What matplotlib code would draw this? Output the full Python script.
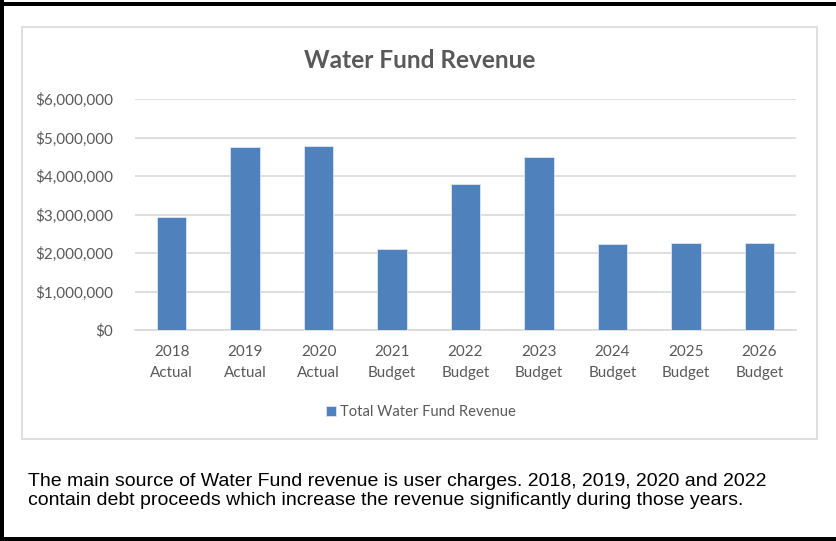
import matplotlib
matplotlib.use("Agg")
import matplotlib.pyplot as plt
from matplotlib.patches import Rectangle
from matplotlib.ticker import FuncFormatter

categories = ["2018\nActual", "2019\nActual", "2020\nActual", "2021\nBudget", "2022\nBudget",
              "2023\nBudget", "2024\nBudget", "2025\nBudget", "2026\nBudget"]
revenue = [2950000, 4750000, 4780000, 2110000, 3800000, 4510000, 2235000, 2255000, 2275000]
yticks = [0, 1000000, 2000000, 3000000, 4000000, 5000000, 6000000]
title = "Water Fund Revenue"
series_name = "Total Water Fund Revenue"
note = ("The main source of Water Fund revenue is user charges. 2018, 2019, 2020 and 2022\n"
        "contain debt proceeds which increase the revenue significantly during those years.")

W, H = 836, 541
fig = plt.figure(figsize=(W / 100, H / 100), dpi=100)
fig.patch.set_facecolor("white")

def fx(px):
    return px / W

def fy(py):
    return 1 - py / H

# outer black border (left, top, bottom)
fig.patches.append(Rectangle((0, fy(541)), fx(4), 1, transform=fig.transFigure,
                             facecolor="black", edgecolor="none", zorder=-2))
fig.patches.append(Rectangle((0, fy(6)), 1, 4 / H, transform=fig.transFigure,
                             facecolor="black", edgecolor="none", zorder=-2))
fig.patches.append(Rectangle((0, 0), 1, 4 / H, transform=fig.transFigure,
                             facecolor="black", edgecolor="none", zorder=-2))
# chart box
fig.patches.append(Rectangle((fx(22), fy(439)), fx(817 - 22), (439 - 27) / H,
                             transform=fig.transFigure, facecolor="white",
                             edgecolor="#D9D9D9", linewidth=1.2, zorder=-1))

ax = fig.add_axes([fx(135), fy(330), fx(796 - 135), (330 - 99.3) / H])
ax.set_zorder(2)
ax.patch.set_visible(False)
x = range(len(categories))
bars = ax.bar(x, revenue, width=0.4, color="#4F81BD", edgecolor="#DCE6F2",
              linewidth=0.6, zorder=3, label=series_name)
ax.set_xlim(-0.5, len(categories) - 0.5)
ax.set_ylim(0, 6000000)
ax.set_yticks(yticks)
ax.yaxis.set_major_formatter(FuncFormatter(lambda v, p: "${:,.0f}".format(v)))
ax.set_xticks(list(x))
ax.set_xticklabels(categories, linespacing=1.7)
ax.grid(axis="y", color="#D9D9D9", linewidth=1.2, zorder=0)
ax.set_axisbelow(True)
for s in ["top", "right", "left"]:
    ax.spines[s].set_visible(False)
ax.spines["bottom"].set_color("#D9D9D9")
ax.spines["bottom"].set_linewidth(1.2)
ax.tick_params(axis="both", length=0, labelcolor="#595959", labelsize=11)
ax.tick_params(axis="y", pad=16)
ax.tick_params(axis="x", pad=10.5)
for t in ax.get_xticklabels() + ax.get_yticklabels():
    t.set_fontfamily("Lato")

fig.text(fx(420), fy(61), title, ha="center", va="center", fontsize=17.6,
         fontweight="bold", color="#595959", family="Lato")

leg = fig.legend(handles=[bars], labels=[series_name], loc="center",
                 bbox_to_anchor=(fx(421), fy(412)), frameon=False,
                 prop={"family": "Lato", "size": 10.6}, handlelength=0.7,
                 handleheight=0.7, handletextpad=0.3)
for t in leg.get_texts():
    t.set_color("#595959")

fig.text(fx(28), fy(473), note, ha="left", va="top", fontsize=14,
         family="Liberation Sans", color="black", linespacing=1.12)

fig.savefig("out.png", dpi=100)
